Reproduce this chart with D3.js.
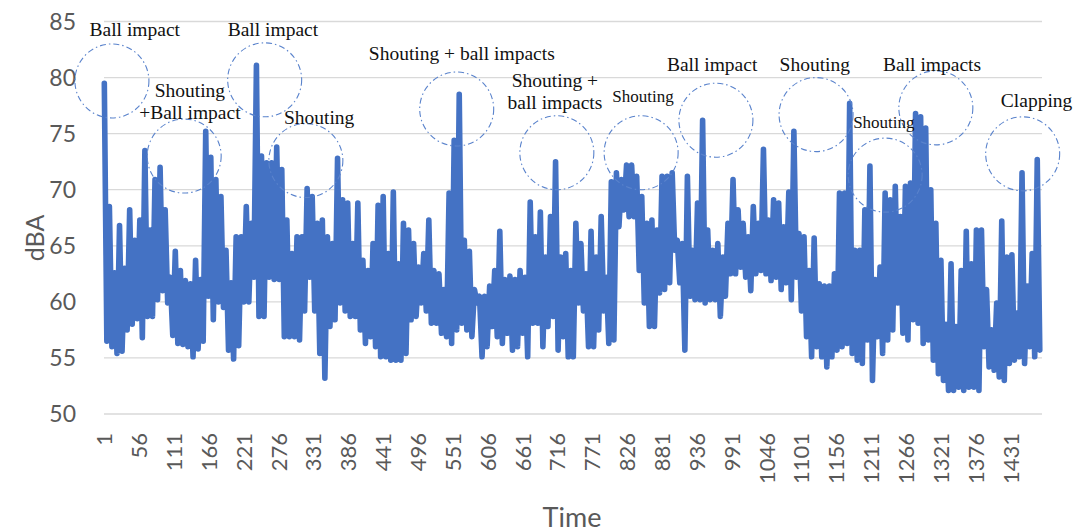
<!DOCTYPE html>
<html>
<head>
<meta charset="utf-8">
<script src="https://cdn.jsdelivr.net/npm/d3@7"></script>
<style>
  html, body { margin: 0; padding: 0; background: #fff; }
  svg { display: block; }
</style>
</head>
<body>
<svg id="chart" width="1080" height="532"></svg>
<script>
// Sound level readings (dBA), one reading every `sampleStep` time steps starting at time 1
const timeCount = 1480;
const sampleStep = 4;
const dba = [
  79.5,56.5, 68.5,56.0, 62.6,55.4, 66.8,55.6, 63.0,57.5, 68.2,58.0, 65.5,58.5, 67.3,56.8, 73.5,58.7,
  66.4,58.7, 70.9,60.2, 72.0,61.0, 68.2,59.9, 62.2,57.0, 64.5,56.3, 62.8,56.2, 61.9,56.0, 61.6,55.1,
  63.7,55.8, 62.0,56.5, 75.2,60.5, 72.9,58.4, 70.9,60.0, 69.4,59.5, 64.6,55.7, 61.7,54.9, 65.8,56.1,
  65.8,60.0, 68.5,60.0, 67.0,62.2, 81.1,58.7, 73.0,58.7, 72.4,62.2, 72.4,62.0, 73.8,62.0, 71.8,56.9,
  67.3,56.9, 64.3,56.9, 65.8,56.6, 65.8,59.2, 70.1,62.2, 69.4,59.2, 67.0,55.4, 67.3,53.2, 65.8,57.8,
  65.2,58.4, 72.8,59.9, 69.1,59.2, 68.8,58.7, 65.2,58.7, 68.8,57.5, 63.7,56.3, 62.8,56.9, 65.2,56.0,
  68.6,55.1, 69.4,55.1, 64.3,54.8, 69.8,54.8, 63.4,54.8, 67.0,55.4, 66.4,58.4, 65.2,58.7, 63.1,59.9,
  64.3,59.2, 67.3,58.1, 62.8,58.1, 62.5,57.2, 61.1,56.9, 69.7,56.3, 74.4,57.5, 78.5,58.1, 65.5,57.5,
  64.5,56.9, 61.1,59.9, 60.5,55.1, 60.5,56.0, 61.4,57.8, 62.8,56.9, 66.3,56.3, 62.0,57.2, 62.3,55.7,
  62.0,56.0, 62.8,57.2, 62.2,55.1, 68.9,58.1, 65.8,58.1, 68.0,56.0, 64.0,57.8, 67.6,58.7, 72.5,55.7,
  64.0,56.9, 64.3,55.1, 62.8,55.1, 67.0,59.9, 65.2,59.2, 62.5,56.0, 66.3,56.0, 64.0,57.5, 67.6,59.2,
  62.2,56.3, 70.7,56.6, 71.5,66.7, 70.9,68.2, 72.2,67.6, 72.2,67.6, 71.2,62.8, 69.4,59.9,
  67.0,57.8, 67.3,57.8, 66.4,60.8, 71.2,61.1, 71.2,61.7, 71.5,64.6, 65.5,61.7, 65.2,55.7, 71.2,60.5,
  64.6,60.2, 68.8,60.2, 76.2,59.9, 66.4,60.2, 64.6,60.2, 65.2,58.7, 64.0,60.5, 67.0,62.5, 70.9,62.5,
  68.2,63.1, 67.0,62.2, 65.8,61.0, 68.5,62.5, 67.0,62.8, 73.6,62.5, 67.3,61.9, 69.1,62.2, 68.8,61.1,
  66.7,61.7, 69.8,60.2, 75.2,62.2, 66.1,59.2, 65.8,56.9, 62.8,55.1, 65.7,56.0, 61.6,55.1, 61.4,54.2,
  61.4,55.1, 62.5,55.7, 69.7,56.0, 69.7,56.3, 77.7,55.4, 64.6,54.8, 64.6,54.5, 68.2,56.6, 72.1,53.0,
  62.0,56.9, 63.1,55.4, 69.7,56.6, 69.1,57.5, 70.3,59.9, 67.6,57.2, 70.3,56.6, 70.6,58.4, 76.8,58.1,
  76.5,56.3, 75.5,56.6, 70.0,54.8, 67.0,53.6, 63.7,53.0, 58.0,52.1, 63.4,52.1, 57.8,52.4, 62.8,52.1,
  66.3,52.4, 63.4,52.4, 66.4,52.1, 66.4,56.0, 61.1,54.2, 57.5,53.9, 59.9,53.3, 67.2,53.0, 64.0,54.5,
  64.2,54.8, 59.0,55.1, 71.5,54.5, 61.4,56.0, 64.3,55.1, 72.7,55.7
];

const yTicks = [50, 55, 60, 65, 70, 75, 80, 85];
const timeLabels = ["1","56","111","166","221","276","331","386","441","496","551","606","661","716",
  "771","826","881","936","991","1046","1101","1156","1211","1266","1321","1376","1431"];

// Event notes: text lines, where the first line sits (time, dBA), and the ring's centre (time, dBA)
const noteText = [
  ["Ball impact"], ["Shouting", "+Ball impact"], ["Ball impact"], ["Shouting"],
  ["Shouting + ball impacts"], ["Shouting +", "ball impacts"], ["Shouting"], ["Ball impact"],
  ["Shouting"], ["Shouting"], ["Ball impacts"], ["Clapping"]
];
const noteAt = [
  [49, 83.7], [136, 78.3], [267, 83.7], [340, 75.9], [565, 81.6], [712, 79.2],
  [851, 77.8], [960, 80.6], [1122, 80.6], [1231, 75.5], [1307, 80.6], [1472, 77.4]
];
const ringAt = [
  [13, 79.7], [127, 73.0], [254, 79.8], [319, 72.6], [557, 77.2], [715, 73.3],
  [848, 73.3], [966, 76.2], [1124, 76.7], [1233, 71.3], [1313, 77.3], [1450, 73.2]
];

const svg = d3.select("#chart");
const axisFont = "Lato, 'Open Sans', sans-serif";
const axisColor = "#595959";

const x = d3.scaleLinear().domain([0.5, timeCount + 0.5]).range([104, 1042]);
const y = d3.scaleLinear().domain([50, 85]).range([414, 21.5]);

// horizontal gridlines
svg.append("g")
  .selectAll("line")
  .data(yTicks)
  .join("line")
  .attr("x1", x.range()[0]).attr("x2", x.range()[1])
  .attr("y1", d => y(d)).attr("y2", d => y(d))
  .attr("stroke", "#d9d9d9")
  .attr("stroke-width", 1.3);

// y tick labels
svg.append("g")
  .selectAll("text")
  .data(yTicks)
  .join("text")
  .attr("x", 76)
  .attr("y", d => y(d))
  .attr("dy", "0.36em")
  .attr("text-anchor", "end")
  .attr("font-family", axisFont)
  .attr("font-size", 23)
  .attr("fill", axisColor)
  .text(d => d);

// x tick labels, rotated
svg.append("g")
  .selectAll("text")
  .data(timeLabels)
  .join("text")
  .attr("transform", d => `translate(${x(+d)},433) rotate(-90)`)
  .attr("dy", "0.36em")
  .attr("text-anchor", "end")
  .attr("font-family", axisFont)
  .attr("font-size", 22)
  .attr("fill", axisColor)
  .text(d => d);

// axis titles
svg.append("text")
  .attr("transform", "translate(44,238) rotate(-90)")
  .attr("text-anchor", "middle")
  .attr("font-family", axisFont)
  .attr("font-size", 25)
  .attr("fill", axisColor)
  .text("dBA");

svg.append("text")
  .attr("x", 572).attr("y", 527)
  .attr("text-anchor", "middle")
  .attr("font-family", axisFont)
  .attr("font-size", 27)
  .attr("fill", axisColor)
  .text("Time");

// the series
const line = d3.line()
  .x((d, i) => x(1 + i * sampleStep))
  .y(d => y(d));

svg.append("path")
  .datum(dba)
  .attr("d", line)
  .attr("fill", "none")
  .attr("stroke", "#4472c4")
  .attr("stroke-width", 5.6)
  .attr("stroke-linejoin", "round")
  .attr("stroke-linecap", "round");

// event rings
svg.append("g")
  .selectAll("circle")
  .data(ringAt)
  .join("circle")
  .attr("cx", d => x(d[0]))
  .attr("cy", d => y(d[1]))
  .attr("r", 37)
  .attr("fill", "none")
  .attr("stroke", "#5a83cc")
  .attr("stroke-width", 1.1)
  .attr("stroke-dasharray", "6 3 1.5 3");

// event notes
const compactNotes = new Set([6, 9]);
const notes = svg.append("g")
  .attr("font-family", "'Liberation Serif', 'Times New Roman', serif")
  .attr("fill", "#111")
  .attr("text-anchor", "middle");

noteText.forEach((lines, i) => {
  const t = notes.append("text")
    .attr("x", x(noteAt[i][0]))
    .attr("y", y(noteAt[i][1]))
    .attr("font-size", compactNotes.has(i) ? 17 : 19.5);
  lines.forEach((s, j) => {
    t.append("tspan")
      .attr("x", x(noteAt[i][0]))
      .attr("dy", j === 0 ? 0 : 22.5)
      .text(s);
  });
});
</script>
</body>
</html>
